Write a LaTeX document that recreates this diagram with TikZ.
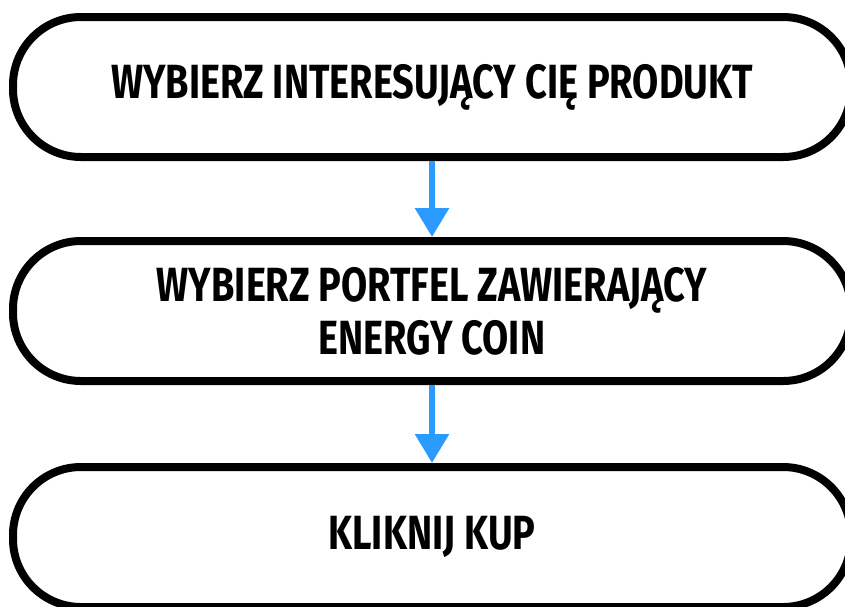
\documentclass[tikz,border=0pt]{standalone}
\usepackage{fontspec}
\setmainfont[FakeStretch=0.79]{Fira Sans}
\usetikzlibrary{arrows.meta}
\definecolor{arrowblue}{RGB}{44,155,255}
\tikzset{
  stepbox/.style={draw=black, line width=8pt, fill=white, rounded corners=68pt,
    minimum width=838pt, minimum height=140pt, inner sep=0pt, align=center,
    font=\fontsize{48}{53}\selectfont\bfseries},
  flowarrow/.style={draw=arrowblue, line width=6pt,
    -{Triangle[width=33pt,length=29pt]}}
}
\begin{document}
\begin{tikzpicture}[x=1pt,y=-1pt]
\useasboundingbox (0,0) rectangle (845,606);
\fill[white] (0,0) rectangle (845,606);
\node[stepbox] (b1) at (432,87) {\raisebox{-2pt}{WYBIERZ INTERESUJĄCY CIĘ PRODUKT}};
\node[stepbox] (b2) at (432,311) {WYBIERZ PORTFEL ZAWIERAJĄCY\\ENERGY COIN};
\node[stepbox] (b3) at (432,537) {KLIKNIJ KUP};
\draw[flowarrow] (b1.south) -- (b2.north);
\draw[flowarrow] (b2.south) -- (b3.north);
\end{tikzpicture}
\end{document}
